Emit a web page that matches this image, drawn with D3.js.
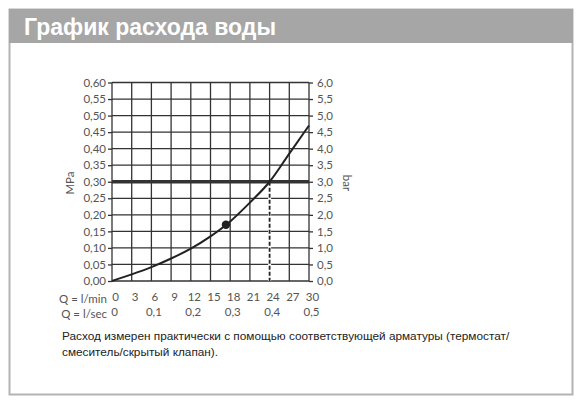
<!DOCTYPE html>
<html>
<head>
<meta charset="utf-8">
<script src="https://cdn.jsdelivr.net/npm/d3@7"></script>
<style>
  body { margin: 0; background: #fff; }
  .tick text { font-family: Lato, "Open Sans", sans-serif; font-size: 11.5px; fill: #555; }
</style>
</head>
<body>
<div id="chart"></div>
<script>
const flowLpm = [0, 3, 6, 9, 12, 15, 18, 21, 24, 27, 30];
const pressureMpa = [0, 0.02, 0.042, 0.068, 0.098, 0.135, 0.18, 0.237, 0.3, 0.385, 0.47];

const mpaTicks = [0, 0.05, 0.1, 0.15, 0.2, 0.25, 0.3, 0.35, 0.4, 0.45, 0.5, 0.55, 0.6];
const barTicks = [0, 0.5, 1, 1.5, 2, 2.5, 3, 3.5, 4, 4.5, 5, 5.5, 6];
const lpmTicks = [0, 3, 6, 9, 12, 15, 18, 21, 24, 27, 30];
const lsecTicks = [0, 0.1, 0.2, 0.3, 0.4, 0.5];

const markPoint = [17.35, 0.17];
const limitPressure = 0.3;
const limitFlow = 24;

const w = 587;
const h = 404;

const svg = d3.select("#chart").append("svg")
  .attr("width", w)
  .attr("height", h);

// frame + header
svg.append("rect")
  .attr("x", 9.5).attr("y", 9.5)
  .attr("width", 563).attr("height", 385)
  .attr("fill", "#fff")
  .attr("stroke", "#b3b3b3")
  .attr("stroke-width", 2);

svg.append("rect")
  .attr("x", 9).attr("y", 9)
  .attr("width", 564).attr("height", 34)
  .attr("fill", "#a6a6a6");

svg.append("text")
  .attr("x", 24).attr("y", 35)
  .attr("fill", "#fff")
  .attr("font-family", "Liberation Sans, Arial, sans-serif")
  .attr("font-weight", "bold")
  .attr("font-size", 23)
  .text("График расхода воды");

const plotLeft = 112, plotRight = 309, plotTop = 82.5, plotBottom = 281;

const x = d3.scaleLinear().domain([0, 30]).range([plotLeft, plotRight]);
const y = d3.scaleLinear().domain([0, 0.6]).range([plotBottom, plotTop]);
const yBar = d3.scaleLinear().domain([0, 6]).range([plotBottom, plotTop]);
const xSec = d3.scaleLinear().domain([0, 0.5]).range([plotLeft, plotRight]);

const fmt = (digits) => (d) => d.toFixed(digits).replace(".", ",");

// grid
svg.append("g").selectAll("line")
  .data(lpmTicks)
  .join("line")
  .attr("x1", (d) => x(d)).attr("x2", (d) => x(d))
  .attr("y1", plotTop).attr("y2", plotBottom)
  .attr("stroke", "#333")
  .attr("stroke-width", 1.3);

svg.append("g").selectAll("line")
  .data(mpaTicks)
  .join("line")
  .attr("x1", plotLeft).attr("x2", plotRight)
  .attr("y1", (d) => y(d)).attr("y2", (d) => y(d))
  .attr("stroke", "#333")
  .attr("stroke-width", 1.3);

// axes
const yAxisLeft = svg.append("g")
  .attr("transform", "translate(" + plotLeft + ",0)")
  .call(d3.axisLeft(y).tickValues(mpaTicks).tickSize(4).tickPadding(2).tickFormat(fmt(2)));

const yAxisRight = svg.append("g")
  .attr("transform", "translate(" + plotRight + ",0)")
  .call(d3.axisRight(yBar).tickValues(barTicks).tickSize(4).tickPadding(4).tickFormat(fmt(1)));

const xAxisMin = svg.append("g")
  .attr("transform", "translate(0," + 293 + ")")
  .call(d3.axisBottom(x).tickValues(lpmTicks).tickSize(0).tickPadding(0).tickFormat((d) => d));

const xAxisSec = svg.append("g")
  .attr("transform", "translate(0," + 308 + ")")
  .call(d3.axisBottom(xSec).tickValues(lsecTicks).tickSize(0).tickPadding(0)
    .tickFormat((d) => (d === 0 ? "0" : fmt(1)(d))));

[yAxisLeft, yAxisRight, xAxisMin, xAxisSec].forEach((g) => {
  g.select(".domain").remove();
  g.selectAll(".tick line").attr("stroke", "#333").attr("stroke-width", 1.3);
});
xAxisMin.selectAll(".tick text").attr("dx", 3);
xAxisSec.selectAll(".tick text").attr("dx", 2);

const axisLabel = (tx, ty, rot, txt, anchor) => {
  svg.append("text")
    .attr("transform", "translate(" + tx + "," + ty + ")" + (rot ? " rotate(" + rot + ")" : ""))
    .attr("text-anchor", anchor)
    .attr("font-family", "Lato, 'Open Sans', sans-serif")
    .attr("font-size", 11.5)
    .attr("fill", "#555")
    .text(txt);
};

axisLabel(74, 183, -90, "MPa", "middle");
axisLabel(343, 183, 90, "bar", "middle");
axisLabel(107, 303, 0, "Q = l/min", "end");
axisLabel(107, 318, 0, "Q = l/sec", "end");

// limit lines
svg.append("line")
  .attr("x1", x(limitFlow)).attr("x2", x(limitFlow))
  .attr("y1", y(limitPressure)).attr("y2", y(0))
  .attr("stroke", "#fff")
  .attr("stroke-width", 3);

svg.append("line")
  .attr("x1", x(limitFlow)).attr("x2", x(limitFlow))
  .attr("y1", y(limitPressure)).attr("y2", y(0))
  .attr("stroke", "#222")
  .attr("stroke-width", 1.8)
  .attr("stroke-dasharray", "4,2");

svg.append("line")
  .attr("x1", plotLeft).attr("x2", plotRight)
  .attr("y1", y(limitPressure)).attr("y2", y(limitPressure))
  .attr("stroke", "#333")
  .attr("stroke-width", 3.5);

// flow curve
const line = d3.line()
  .x((d, i) => x(flowLpm[i]))
  .y((d) => y(d))
  .curve(d3.curveMonotoneX);

svg.append("path")
  .datum(pressureMpa)
  .attr("d", line)
  .attr("fill", "none")
  .attr("stroke", "#222")
  .attr("stroke-width", 2);

svg.append("circle")
  .attr("cx", x(markPoint[0]))
  .attr("cy", y(markPoint[1]))
  .attr("r", 4.2)
  .attr("fill", "#222");

// footnote
const note = svg.append("text")
  .attr("font-family", "Liberation Sans, Arial, sans-serif")
  .attr("font-size", 11.8)
  .attr("fill", "#222");

note.append("tspan").attr("x", 62).attr("y", 340)
  .text("Расход измерен практически с помощью соответствующей арматуры (термостат/");
note.append("tspan").attr("x", 62).attr("y", 356)
  .text("смеситель/скрытый клапан).");
</script>
</body>
</html>
